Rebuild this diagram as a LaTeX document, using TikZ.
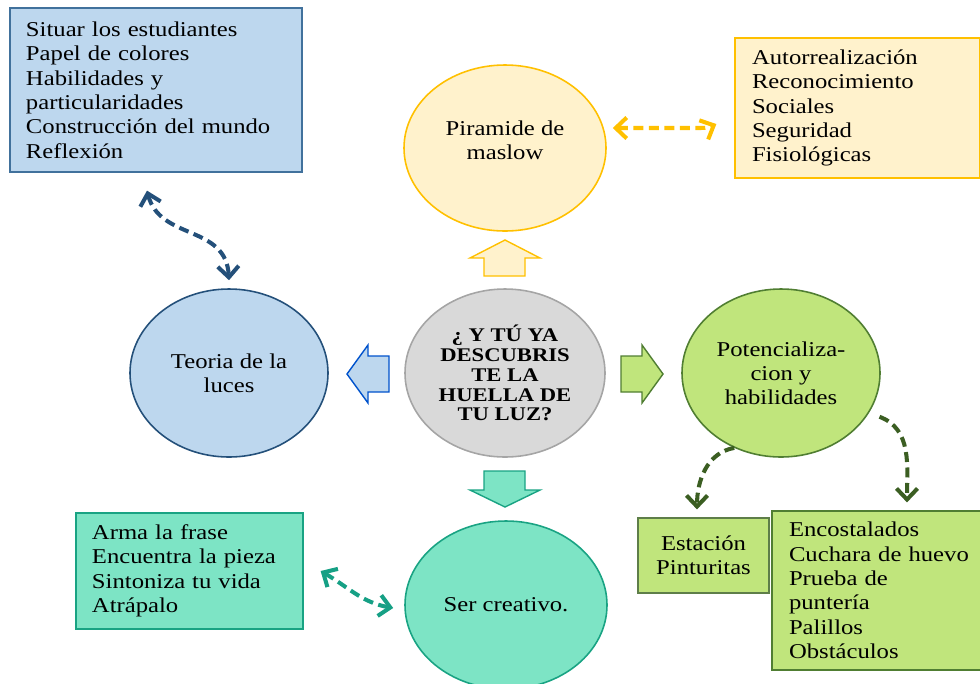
\documentclass[tikz,border=0pt]{standalone}
\usepackage{fontspec}
\setmainfont{Liberation Serif}[FakeStretch=1.17]
\usepackage{tikz}
\usetikzlibrary{arrows.meta, shapes.geometric}
\definecolor{bluefill}{HTML}{BDD7EE}
\definecolor{blueline}{HTML}{41719C}
\definecolor{linkblue}{HTML}{24507A}
\definecolor{goldfill}{HTML}{FFF2CC}
\definecolor{goldline}{HTML}{FFC000}
\definecolor{grayfill}{HTML}{D9D9D9}
\definecolor{grayline}{HTML}{A5A5A5}
\definecolor{greenfill}{HTML}{C0E57C}
\definecolor{greenline}{HTML}{507E32}
\definecolor{linkgreen}{HTML}{3B5E22}
\definecolor{tealfill}{HTML}{7DE4C5}
\definecolor{tealline}{HTML}{19A383}
\definecolor{linkteal}{HTML}{16A085}

\begin{document}
\begin{tikzpicture}[x=0.2mm, y=0.2mm,
    bubble/.style={ellipse, draw, line width=0.9pt, minimum width=40mm, minimum height=33.6mm,
        align=center, inner sep=0pt, font=\fontsize{12}{13.6}\selectfont},
    listbox/.style={draw, line width=0.7pt, align=left, inner xsep=3.2mm, inner ysep=0pt,
        font=\fontsize{12}{13.9}\selectfont},
    blockarrow/.style={line width=0.8pt, line join=miter},
    tip/.tip={Straight Barb[length=2.2mm, width=4.2mm]},
    dlink/.style={line width=2.3pt, dash pattern=on 2mm off 1.1mm, tip-tip},
    dlead/.style={line width=2.3pt, dash pattern=on 2mm off 1.1mm, -tip}]
    \useasboundingbox (0,0) rectangle (980,-683);

    % Central ellipse
    \node[bubble, fill=grayfill, draw=grayline, minimum width=40mm,
        font=\fontsize{11}{11.3}\selectfont\bfseries] (huella) at (505,-373)
        {¿ Y TÚ YA\\DESCUBRIS\\TE LA\\HUELLA DE\\TU LUZ?};

    % Outer ellipses
    \node[bubble, fill=goldfill, draw=goldline, minimum width=40.4mm, minimum height=33.2mm, text depth=3.2mm]
        (maslow) at (505,-148) {Piramide de\\maslow};
    \node[bubble, fill=bluefill, draw=linkblue, minimum width=39.6mm] (teoria) at (229,-373)
        {Teoria de la\\luces};
    \node[bubble, fill=greenfill, draw=greenline, minimum width=39.6mm] (potencial) at (781,-373)
        {Potencializa-\\cion y\\habilidades};
    \node[bubble, fill=tealfill, draw=tealline, minimum width=40.4mm] (creativo) at (506,-605)
        {Ser creativo.};

    % List boxes
    \node[listbox, fill=bluefill, draw=blueline, text width=52mm, minimum height=32.8mm]
        (situar) at (156,-90) {Situar los estudiantes\\Papel de colores\\Habilidades y\\particularidades\\Construcción del mundo\\Reflexión};
    \node[listbox, fill=goldfill, draw=goldline, inner xsep=3.4mm, text width=42.2mm, minimum height=28mm]
        (niveles) at (857.5,-108) {Autorrealización\\Reconocimiento\\Sociales\\Seguridad\\Fisiológicas};
    \node[listbox, fill=tealfill, draw=tealline, text width=39mm, minimum height=23.2mm]
        (frases) at (189.5,-571) {Arma la frase\\Encuentra la pieza\\Sintoniza tu vida\\Atrápalo};
    \node[listbox, fill=greenfill, draw=greenline!70!gray, align=center, text width=19.8mm, minimum height=15mm]
        (estacion) at (703.5,-555.5) {Estación\\Pinturitas};
    \node[listbox, fill=greenfill, draw=greenline, inner xsep=3.4mm, text width=38.2mm, minimum height=31.8mm]
        (juegos) at (884.5,-590.5) {Encostalados\\Cuchara de huevo\\Prueba de\\puntería\\Palillos\\Obstáculos};

    % Block arrows around the centre
    \draw[blockarrow, fill=goldfill, draw=goldline] (484,-276) -- (484,-258) -- (470,-258) -- (505,-240)
        -- (540,-258) -- (525,-258) -- (525,-276) -- cycle;
    \draw[blockarrow, fill=tealfill, draw=tealline] (484,-471) -- (484,-490) -- (470,-490) -- (505,-507)
        -- (540,-490) -- (525,-490) -- (525,-471) -- cycle;
    \draw[blockarrow, fill=bluefill, draw=blue!60!cyan!80!black] (389,-356) -- (368,-356) -- (368,-345) -- (347,-374)
        -- (368,-403) -- (368,-392) -- (389,-392) -- cycle;
    \draw[blockarrow, fill=greenfill, draw=greenline] (621,-356) -- (642,-356) -- (642,-345) -- (663,-374)
        -- (642,-403) -- (642,-392) -- (621,-392) -- cycle;

    % Dashed links
    \draw[dlink, linkblue] ([xshift=-1.8mm, yshift=-3.6mm]situar.south)
        .. controls +(2.6mm,-10mm) and +(-0.6mm,11.2mm) .. ([yshift=1.6mm]teoria.north);
    \draw[dlink, goldline] ([shift={(1.2mm,4mm)}]maslow.east) -- ++(17.6mm,0)
        to[out=0, in=205] ([shift={(-3.6mm,-3.2mm)}]niveles.west);
    \draw[dlink, linkteal] ([xshift=3.4mm]frases.east) to[out=-30, in=170]
        ([xshift=-2.2mm, yshift=-0.6mm]creativo.west);
    \draw[dlead, linkgreen] (potencial.-122) to[out=190, in=90]
        ([xshift=-1.3mm, yshift=1.6mm]estacion.north);
    \draw[dlead, linkgreen] ([shift={(2.2mm,-0.6mm)}]potencial.-25) to[out=-20, in=90]
        ([xshift=4.5mm, yshift=1.6mm]juegos.north);
\end{tikzpicture}
\end{document}
